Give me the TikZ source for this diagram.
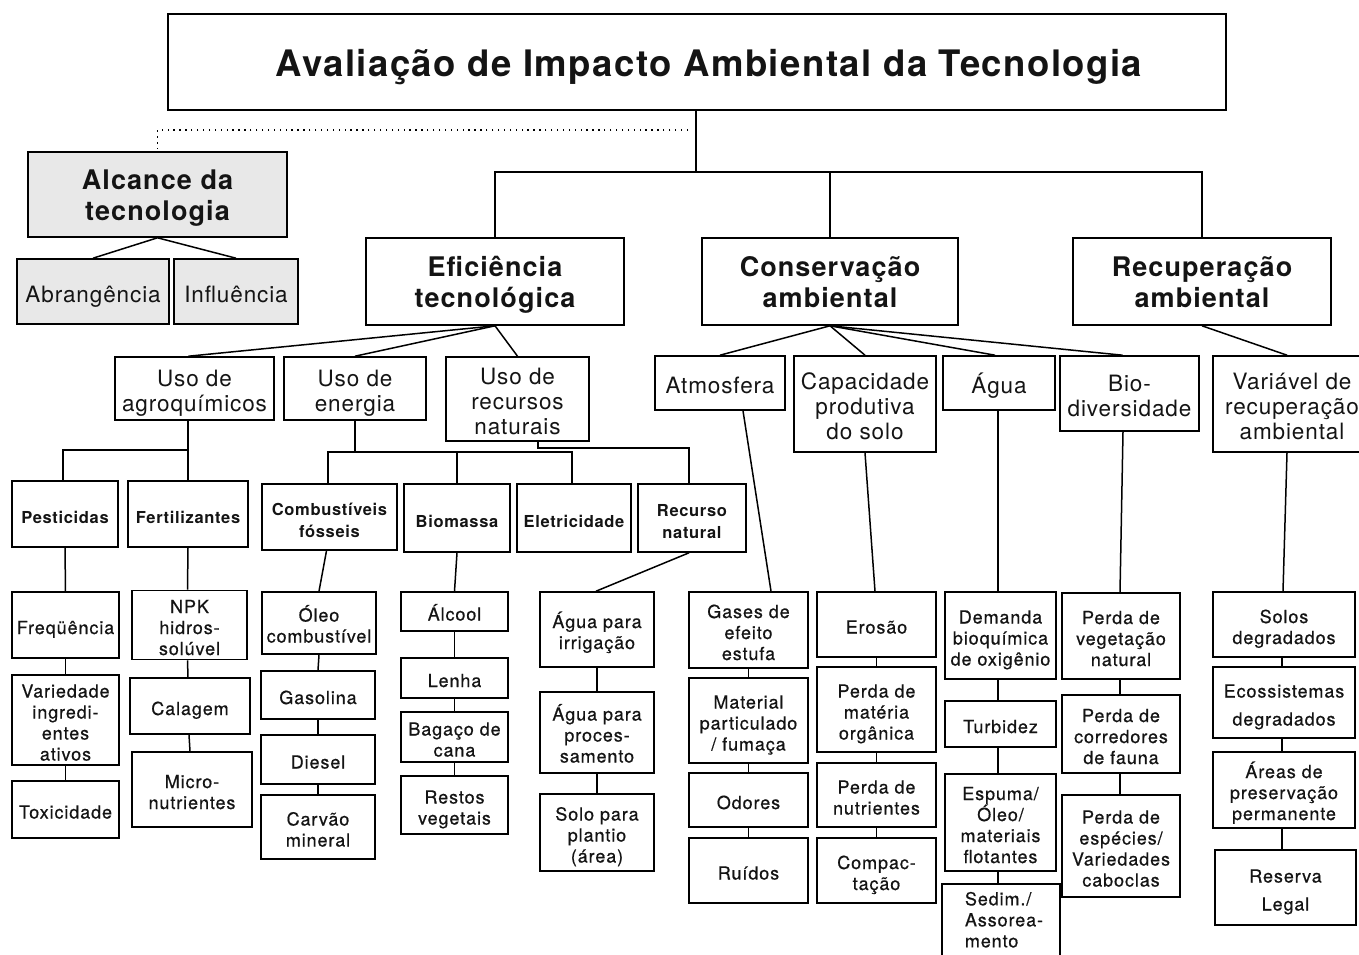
\documentclass[tikz,border=0pt]{standalone}
\usepackage{fontspec}
\newfontfamily\hv{TeX Gyre Heros}[LetterSpace=4]
\newfontfamily\hvmed{TeX Gyre Heros}[LetterSpace=5,FakeBold=0.6]
\def\tsh{1}
\newcommand\ts{\rule{0pt}{\tsh em}}
\newcommand\botstrut{\rule[-0.25em]{0pt}{0.25em}}
\begin{document}
\begin{tikzpicture}[x=1pt,y=-1pt,
 bx/.style={draw, line width=1.6pt, inner sep=0pt, align=center, text=black!92,
   execute at end node={\botstrut}},
 gbx/.style={bx, fill=black!9},
 ttl/.style={font=\hv\bfseries\fontsize{36.5}{40}\selectfont, execute at begin node={\def\tsh{1.03}\ts}},
 lvtwo/.style={font=\hv\bfseries\fontsize{27}{31.5}\selectfont, execute at begin node={\def\tsh{1.03}\ts}},
 lvthree/.style={font=\hv\fontsize{22.5}{25}\selectfont, execute at begin node={\def\tsh{1.19}\ts}},
 lvfour/.style={font=\hv\bfseries\fontsize{16.5}{22}\selectfont, execute at begin node={\def\tsh{1.39}\ts}},
 lf/.style={font=\hvmed\fontsize{18}{21}\selectfont, execute at begin node={\def\tsh{1.25}\ts}},
 ln/.style={line width=1.5pt},
 dotln/.style={line width=1.3pt, dash pattern=on 1.3pt off 4.6pt}]
\useasboundingbox (0,0) rectangle (1359,955);
% ---- level 1 ----
\node[bx, ttl, minimum width=1058, minimum height=96] (title) at (697,62) {\hspace*{24pt}Avaliação de Impacto Ambiental da Tecnologia};
% ---- alcance ----
\node[gbx, lvtwo, minimum width=259, minimum height=85] (alc) at (157.5,194.5) {\ts Alcance da\\tecnologia};
\node[gbx, lvthree, minimum width=152, minimum height=65] (abr) at (93,291.5) {Abrangência};
\node[gbx, lvthree, minimum width=124, minimum height=65] (inf) at (236,291.5) {Influência};
% ---- level 2 ----
\node[bx, lvtwo, minimum width=258, minimum height=87] (efi) at (495,281.5) {\ts Eficiência\\tecnológica};
\node[bx, lvtwo, minimum width=256, minimum height=87] (con) at (830,281.5) {\ts Conservação\\ambiental};
\node[bx, lvtwo, minimum width=258, minimum height=87] (rec) at (1202,281.5) {\ts Recuperação\\ambiental};
% ---- level 3 ----
\node[bx, lvthree, minimum width=159, minimum height=63] (agro) at (194.5,388.5) {\ts Uso de\\agroquímicos};
\node[bx, lvthree, minimum width=142, minimum height=63] (ener) at (355,388.5) {\ts Uso de\\energia};
\node[bx, lvthree, minimum width=143, minimum height=84] (recn) at (517.5,399) {\ts Uso de\\recursos\\naturais};
\node[bx, lvthree, minimum width=130, minimum height=54] (atm) at (720,383) {Atmosfera};
\node[bx, lvthree, minimum width=142, minimum height=96] (cap) at (865,404) {\ts Capacidade\\produtiva\\do solo};
\node[bx, lvthree, minimum width=112, minimum height=54] (agua) at (999,383) {Água};
\node[bx, lvthree, minimum width=139, minimum height=75] (bio) at (1129.5,393.5) {\ts Bio-\\diversidade};
\node[bx, lvthree, minimum width=158, minimum height=96] (var) at (1292,404) {\ts Variável de\\recuperação\\ambiental};
% ---- level 4 ----
\node[bx, lvfour, minimum width=106, minimum height=66] (pest) at (65,514) {Pesticidas};
\node[bx, lvfour, minimum width=120, minimum height=66] (fert) at (188,514) {Fertilizantes};
\node[bx, lvfour, minimum width=135, minimum height=66] (comb) at (329.5,517) {\ts Combustíveis\\fósseis};
\node[bx, lvfour, minimum width=106, minimum height=68] (biom) at (457,518) {Biomassa};
\node[bx, lvfour, minimum width=114, minimum height=68] (elet) at (574,518) {Eletricidade};
\node[bx, lvfour, minimum width=108, minimum height=68] (rnat) at (692,518) {\ts Recurso\\natural};
% ---- leaves ----
\node[bx, lf, minimum width=107, minimum height=66] (freq) at (65.5,625) {Freqüência};
\node[bx, lf, minimum width=107, minimum height=86] (vari) at (65.5,720) {\ts Variedade\\ingredi-\\entes\\ativos};
\node[bx, lf, minimum width=107, minimum height=57] (toxi) at (65.5,809.5) {Toxicidade};
\node[bx, lf, minimum width=115, minimum height=66] (npk) at (189.5,625) {\ts NPK\\hidros-\\solúvel};
\node[bx, lf, minimum width=120, minimum height=56] (cala) at (190,706) {Calagem};
\node[bx, lf, minimum width=120, minimum height=75] (micro) at (192,789.5) {\ts Micro-\\nutrientes};
\node[bx, lf, minimum width=114, minimum height=62] (oleo) at (319,623) {\ts Óleo\\combustível};
\node[bx, lf, minimum width=114, minimum height=48] (gaso) at (318,695) {Gasolina};
\node[bx, lf, minimum width=114, minimum height=49] (dies) at (318,759.5) {Diesel};
\node[bx, lf, minimum width=114, minimum height=64] (carv) at (318,827) {\ts Carvão\\mineral};
\node[bx, lf, minimum width=107, minimum height=39] (alco) at (454.5,611.5) {Álcool};
\node[bx, lf, minimum width=107, minimum height=40] (lenha) at (454.5,678) {Lenha};
\node[bx, lf, minimum width=107, minimum height=50] (baga) at (454.5,737) {\ts Bagaço de\\cana};
\node[bx, lf, minimum width=107, minimum height=58] (rest) at (454.5,805) {\ts Restos\\vegetais};
\node[bx, lf, minimum width=114, minimum height=75] (airr) at (597,629.5) {\ts Água para\\irrigação};
\node[bx, lf, minimum width=114, minimum height=81] (aproc) at (597,732.5) {\ts Água para\\proces-\\samento};
\node[bx, lf, minimum width=114, minimum height=77] (solo) at (597,832.5) {\ts Solo para\\plantio\\(área)};
\node[bx, lf, minimum width=119, minimum height=76] (gases) at (748.5,630) {\ts Gases de\\efeito\\estufa};
\node[bx, lf, minimum width=119, minimum height=85] (mate) at (748.5,720.5) {\ts Material\\particulado\\/ fumaça};
\node[bx, lf, minimum width=119, minimum height=54] (odor) at (748.5,800) {Odores};
\node[bx, lf, minimum width=119, minimum height=65] (ruid) at (748.5,870.5) {Ruídos};
\node[bx, lf, minimum width=119, minimum height=65] (eros) at (876.5,624.5) {Erosão};
\node[bx, lf, minimum width=119, minimum height=85] (pmat) at (876.5,709.5) {\ts Perda de\\matéria\\orgânica};
\node[bx, lf, minimum width=119, minimum height=64] (pnut) at (876.5,795) {\ts Perda de\\nutrientes};
\node[bx, lf, minimum width=119, minimum height=65] (comp) at (876.5,870.5) {\ts Compac-\\tação};
\node[bx, lf, minimum width=111, minimum height=87] (dema) at (1000.5,635.5) {\ts Demanda\\bioquímica\\de oxigênio};
\node[bx, lf, minimum width=111, minimum height=46] (turb) at (1000.5,724) {Turbidez};
\node[bx, lf, minimum width=111, minimum height=97] (espu) at (1000.5,822.5) {\ts Espuma/\\Óleo/\\materiais\\flotantes};
\node[bx, lf, minimum width=118, minimum height=73, align=left] (sedi) at (1001,920.5) {\def\tsh{0.9}\ts\hspace*{6pt}Sedim./\\\hspace*{6pt}Assorea-\\\hspace*{6pt}mento};
\node[bx, lf, minimum width=118, minimum height=86] (pveg) at (1121,636) {\ts Perda de\\vegetação\\natural};
\node[bx, lf, minimum width=118, minimum height=78] (pcor) at (1121,734) {\ts Perda de\\corredores\\de fauna};
\node[bx, lf, minimum width=118, minimum height=102] (pesp) at (1121,846) {\ts Perda de\\espécies/\\Variedades\\caboclas};
\node[bx, lf, minimum width=142, minimum height=65] (solos) at (1284,624.5) {\ts Solos\\degradados};
\node[bx, lf, minimum width=142, minimum height=71] (ecos) at (1284,702.5) {\ts Ecossistemas\\[7pt]degradados};
\node[bx, lf, minimum width=142, minimum height=76] (area) at (1284,790) {\ts Áreas de\\preservação\\permanente};
\node[bx, lf, minimum width=141, minimum height=75] (rese) at (1285.5,887.5) {\ts Reserva\\[7pt]Legal};
% ---- connectors: top ----
\coordinate (j0) at (696,172);
\draw[ln] (title.south -| j0) -- (j0);
\draw[ln] (efi.north) |- (j0) -| (rec.north);
\draw[ln] (con.north) -- (con.north |- j0);
\coordinate (dt) at (688,130);
\draw[dotln] (dt) -| (alc.north);
\draw[ln] (alc.south) -- (abr.north);
\draw[ln] (alc.south) -- (inf.north);
% level 2 -> 3
\draw[ln] (efi.south) -- ([xshift=-6pt]agro.north);
\draw[ln] (efi.south) -- (ener.north);
\draw[ln] (efi.south) -- (recn.north);
\draw[ln] (con.south) -- (atm.north);
\draw[ln] (con.south) -- (cap.north);
\draw[ln] (con.south) -- ([xshift=-4pt]agua.north);
\draw[ln] (con.south) -- ([xshift=-7pt]bio.north);
\draw[ln] (rec.south) -- ([xshift=-5pt]var.north);
% level 3 -> 4
\coordinate (ja) at (188,450);
\draw[ln] (agro.south -| ja) -- (ja);
\draw[ln] ([xshift=-2pt]pest.north) |- (ja) -- (fert.north);
\coordinate (je) at (355,452);
\draw[ln] (ener.south) -- (je);
\draw[ln] ([xshift=-1.5pt]comb.north) |- (je) -| ([xshift=-2pt]elet.north);
\draw[ln] (biom.north) -- (biom.north |- je);
\coordinate (jr) at (538,448);
\draw[ln] (recn.south -| jr) -- (jr) -| ([xshift=-3pt]rnat.north);
% level 4 -> leaves
\draw[ln] (pest.south) -- (freq.north);
\draw[ln] (freq.south) -- (vari.north);
\draw[ln] (vari.south) -- (toxi.north);
\draw[ln] (fert.south) -- ([xshift=-2pt]npk.north);
\draw[ln] ([xshift=-2pt]npk.south) -- ([xshift=-2pt]cala.north);
\draw[ln] ([xshift=-1pt]cala.south) -- ([xshift=-2pt]micro.north);
\draw[ln] ([xshift=-3pt]comb.south) -- (oleo.north);
\draw[ln] (oleo.south) -- (gaso.north);
\draw[ln] (gaso.south) -- (dies.north);
\draw[ln] (dies.south) -- (carv.north);
\draw[ln] (biom.south) -- (alco.north);
\draw[ln] (alco.south) -- (lenha.north);
\draw[ln] (lenha.south) -- (baga.north);
\draw[ln] (baga.south) -- (rest.north);
\draw[ln] ([xshift=-3pt]rnat.south) -- ([xshift=-1pt]airr.north);
\draw[ln] (airr.south) -- (aproc.north);
\draw[ln] (aproc.south) -- (solo.north);
\draw[ln] ([xshift=23pt]atm.south) -- ([xshift=22.5pt]gases.north);
\draw[ln] (gases.south) -- (mate.north);
\draw[ln] (mate.south) -- (odor.north);
\draw[ln] (odor.south) -- (ruid.north);
\draw[ln] (cap.south) -- ([xshift=-1.5pt]eros.north);
\draw[ln] (eros.south) -- (pmat.north);
\draw[ln] (pmat.south) -- (pnut.north);
\draw[ln] (pnut.south) -- (comp.north);
\draw[ln] ([xshift=-1pt]agua.south) -- ([xshift=-2.5pt]dema.north);
\draw[ln] ([xshift=-2.5pt]dema.south) -- ([xshift=-2.5pt]turb.north);
\draw[ln] ([xshift=-2.5pt]turb.south) -- ([xshift=-2.5pt]espu.north);
\draw[ln] ([xshift=-2.5pt]espu.south) -- ([xshift=-3pt]sedi.north);
\draw[ln] ([xshift=-6.5pt]bio.south) -- ([xshift=-1pt]pveg.north);
\draw[ln] ([xshift=-1pt]pveg.south) -- ([xshift=-1pt]pcor.north);
\draw[ln] ([xshift=-1pt]pcor.south) -- ([xshift=-1pt]pesp.north);
\draw[ln] ([xshift=-5pt]var.south) -- ([xshift=-1pt]solos.north);
\draw[ln] ([xshift=-2pt]solos.south) -- ([xshift=-2pt]ecos.north);
\draw[ln] ([xshift=-2pt]ecos.south) -- ([xshift=-2pt]area.north);
\draw[ln] ([xshift=-2pt]area.south) -- ([xshift=-3.5pt]rese.north);
\end{tikzpicture}
\end{document}
